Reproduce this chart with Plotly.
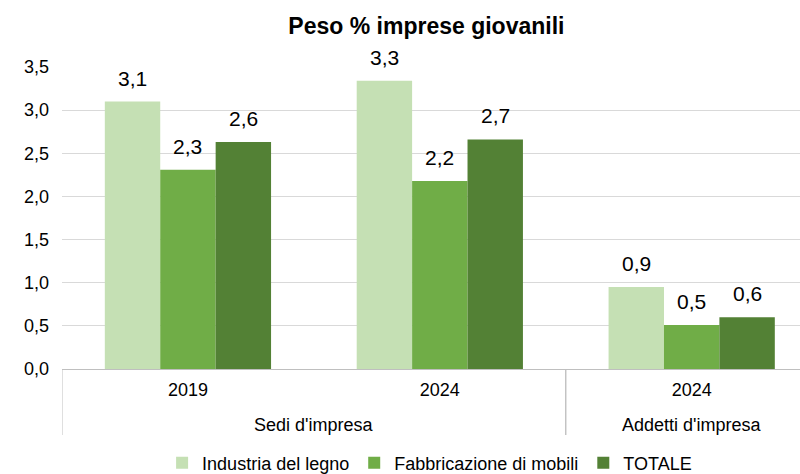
import plotly.graph_objects as go

groups = ["Sedi d'impresa", "Sedi d'impresa", "Addetti d'impresa"]
years = ["2019", "2024", "2024"]
series_names = ["Industria del legno", "Fabbricazione di mobili", "TOTALE"]
legno = [3.10, 3.34, 0.95]
mobili = [2.31, 2.18, 0.51]
totale = [2.63, 2.66, 0.60]
colors = ["#C5E0B4", "#70AD47", "#538135"]

FONT = "Liberation Sans, Arial"
W, H = 800, 474
ML, MT, MB = 62, 67, 105
plot_h = H - MT - MB
BARGAP = 0.34

xpos = list(range(len(years)))
series = [legno, mobili, totale]
n = len(series)
bw = (1 - BARGAP) / n

fig = go.Figure()
for k, (name, vals, col) in enumerate(zip(series_names, series, colors)):
    fig.add_trace(go.Bar(
        x=xpos, y=vals, name=name,
        marker=dict(color=col, line=dict(width=0)),
        cliponaxis=False,
    ))
    # value labels above each bar
    off = (k - (n - 1) / 2) * bw
    for xi, v in zip(xpos, vals):
        fig.add_annotation(x=xi + off, xref="x", y=v, yref="y",
                           text=f"{v:.1f}".replace(".", ","), showarrow=False,
                           yanchor="bottom", yshift=10,
                           font=dict(size=21, color="#000000", family=FONT))

# group labels and dividers derived from the category structure
spans = []
for i, g in enumerate(groups):
    if spans and spans[-1][0] == g:
        spans[-1][2] = i
    else:
        spans.append([g, i, i])

div_color = "#BFBFBF"
div_bottom = -(435 - 369) / plot_h
for g, a, b in spans:
    fig.add_annotation(x=(a + b) / 2, xref="x", y=-(425 - 369) / plot_h, yref="paper",
                       text=g, showarrow=False, yanchor="middle",
                       font=dict(size=18, color="#000000", family=FONT))
    for edge in (a - 0.5, b + 0.5):
        fig.add_shape(type="line", xref="x", yref="paper", x0=edge, x1=edge,
                      y0=0, y1=div_bottom, line=dict(color=div_color, width=1))

fig.update_layout(
    width=W, height=H,
    margin=dict(l=ML, r=0, t=MT, b=MB),
    paper_bgcolor="white", plot_bgcolor="white",
    separators=",.",
    barmode="group", bargap=BARGAP, bargroupgap=0,
    font=dict(family=FONT, size=18, color="#000000"),
    title=dict(text="<b>Peso % imprese giovanili</b>", x=0.533, xanchor="center",
               xref="container", yref="container",
               y=1 - 26 / H, yanchor="middle", font=dict(size=23, color="#000000")),
    legend=dict(orientation="h", xref="container", yref="container",
                x=0.537, xanchor="center", y=1 - 463 / H, yanchor="middle",
                font=dict(size=18), traceorder="normal"),
    xaxis=dict(tickmode="array", tickvals=xpos, ticktext=years,
               range=[-0.5, len(years) - 0.57],
               showline=True, linecolor=div_color, linewidth=1, showgrid=False,
               zeroline=False, tickfont=dict(size=18), ticks="",
               ticklabelstandoff=4, automargin=False),
    yaxis=dict(range=[0, 3.5], dtick=0.5, tickformat=".1f", showgrid=True,
               gridcolor="#D9D9D9", gridwidth=1, zeroline=False, showline=False,
               tickfont=dict(size=18), ticks="", ticklabelstandoff=12, automargin=False),
)

fig.write_html("out.html", config={"displayModeBar": False},
               post_script="document.body.style.margin='0';")
